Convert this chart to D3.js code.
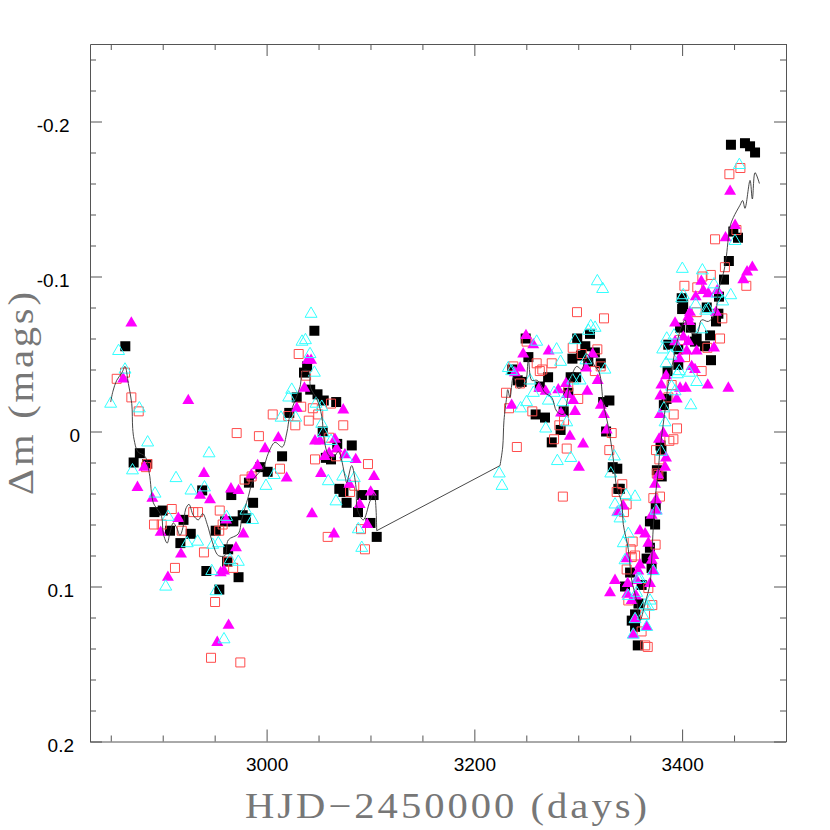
<!DOCTYPE html>
<html>
<head>
<meta charset="utf-8">
<script src="https://cdnjs.cloudflare.com/ajax/libs/d3/7.8.5/d3.min.js"></script>
<style>
  html, body { margin: 0; padding: 0; background: #fff; }
  svg { display: block; }
  .tick text { font-family: "Liberation Sans", sans-serif; font-size: 19px; fill: #000; }
  .tick line, .domain { stroke: #555; stroke-width: 1; }
  .title { font-family: "Liberation Serif", serif; font-size: 35px; fill: #777; }
</style>
</head>
<body>
<div id="chart"></div>
<script>
// [day, mag] pairs, one list per symbol
const blackSquares = [[2864,-0.055],[2878,0.014],[2872,0.020],[2885,0.021],[2938,0.038],[2966,0.041],[2892,0.052],[2900,0.051],[2907,0.064],[2920,0.057],[2927,0.066],[2917,0.072],[2951,0.064],[2960,0.058],[2968,0.058],[2977,0.054],[2980,0.056],[2987,0.046],[2983,0.033],[3001,0.026],[2994,0.023],[2963,0.076],[2962,0.084],[2942,0.090],[2973,0.094],[2954.5,0.102],
  [3046,-0.065],[3039,-0.042],[3036,-0.038],[3029,-0.022],[3042,-0.027],[3049,-0.024],[3055,-0.020],[3067,-0.019],[3021.8,-0.012],[3054,0],[3082,0.009],[3068,0.008],[3014.9,0.016],[3057,0.017],[3062,0.018],[3070,0.037],[3074,0.039],[3077,0.046],[3092,0.041],[3103,0.041],[3088,0.052],[3100,0.059],[3106,0.068],
  [3249.4,-0.060],[3252,-0.048],[3236.5,-0.040],[3241.7,-0.033],[3245.5,-0.032],[3271,-0.035],[3263,-0.029],[3259,-0.011],[3268,-0.009],[3283,-0.001],[3274.5,0.007],[3286,-0.013],[3290.4,-0.025],[3292.7,-0.035],[3298,-0.035],[3294.4,-0.047],[3299,-0.060],[3306.8,-0.055],[3302.6,-0.049],[3311.3,-0.063],[3316,-0.051],[3309.7,-0.045],[3321.7,-0.044],[3324,-0.019],[3330,-0.020],[3326.8,0],[3333.2,0.023],[3337.6,0.024],[3338.6,0.037],[3340,0.037],
  [3380.4,0.029],[3374.6,0.048],[3369,0.058],[3374,0.060],[3369,0.075],[3365.8,0.082],[3370.6,0.088],[3349.9,0.091],[3345,0.100],[3361,0.099],[3358,0.111],[3354.7,0.118],[3351.5,0.122],[3354.7,0.126],[3357.3,0.138],
  [3445,-0.110],[3440.3,-0.098],[3435.5,-0.087],[3399.6,-0.086],[3401,-0.082],[3400,-0.079],[3423.7,-0.080],[3434.9,-0.076],[3432.6,-0.071],[3408.3,-0.067],[3398,-0.067],[3414,-0.060],[3426.9,-0.062],[3412.4,-0.058],[3422,-0.055],[3386.7,-0.056],[3396.3,-0.053],[3427.8,-0.046],[3396.3,-0.043],[3386,-0.039],[3385,-0.021],[3382.4,-0.017],[3379.2,0.009],[3380.1,0.012],[3375.7,0.025],
  [3447,-0.185],[3460.5,-0.186],[3465.4,-0.184],[3470.2,-0.180],[3449.3,-0.129],[3453.8,-0.125]];

const redSquares = [[2855.7,-0.034],[2863.7,-0.038],[2869.8,-0.022],[2876.9,-0.013],[2971.2,0.001],[2885.2,0.021],[2883.9,0.023],[2908.7,0.050],[2891.6,0.060],[2899,0.060],[2918.3,0.064],[2929.4,0.052],[2934,0.052],[2954.9,0.051],[2978.8,0.031],[2985.6,0.029],[3012.9,0.024],[2939.7,0.078],[2957.7,0.060],[2954.4,0.064],[2911.8,0.088],[2963,0.084],[2967.8,0.088],[2950.4,0.110],[2946.5,0.146],[2974.7,0.149],
  [3030.9,-0.050],[3038,-0.036],[3005.9,-0.011],[3033.3,-0.016],[3044.5,-0.015],[3062,-0.018],[3049.7,-0.011],[3040.6,-0.007],[3027.6,-0.004],[3020.9,-0.010],[2992.6,0.003],[3073.8,-0.004],[3060.3,0.004],[3046.6,0.018],[3066.8,0.016],[3097.6,0.021],[3084.4,0.035],[3080.3,0.039],[3058.8,0.068],[3090.9,0.063],[3094.7,0.076],
  [3298.8,-0.077],[3324.8,-0.073],[3250.3,-0.058],[3294.7,-0.054],[3318.4,-0.053],[3303.4,-0.050],[3237.5,-0.042],[3260,-0.044],[3274.5,-0.044],[3265.4,-0.040],[3263,-0.039],[3316,-0.039],[3321.6,-0.042],[3244,-0.031],[3290.4,-0.029],[3230.5,-0.025],[3300,-0.021],[3233.4,-0.015],[3255.8,-0.013],[3286.3,-0.007],[3281.8,-0.004],[3276.7,0.005],[3332.2,0.001],[3240.9,0.010],[3288.9,0.011],[3329.9,0.012],[3285.2,0.042],[3337,0.039],[3342.4,0.034],[3346.6,0.047],[3344,0.052],
  [3377.1,0.028],[3378.7,0.042],[3372.3,0.043],[3352.4,0.071],[3374.5,0.073],[3350.5,0.076],[3354.7,0.080],[3351.5,0.081],[3346.6,0.089],[3367.5,0.101],[3348.2,0.109],[3371.3,0.112],[3364.3,0.118],[3361,0.129],[3364.5,0.138],[3366.9,0.139],
  [3441.2,-0.106],[3419.5,-0.100],[3427.6,-0.101],[3402.2,-0.094],[3414.6,-0.093],[3461.8,-0.094],[3414,-0.077],[3438.7,-0.073],[3436.5,-0.060],[3424.3,-0.054],[3398,-0.059],[3402.8,-0.048],[3418.8,-0.039],[3389.9,-0.030],[3386.7,-0.022],[3391.9,-0.011],[3395.1,-0.002],[3391.6,0.005],[3387.7,0.006],[3374.9,0.012],[3378.1,0.018],[3375.6,0.027],[3456.1,-0.170],[3445.5,-0.166],[3431.7,-0.124],[3452.3,-0.130]];

const magentaTriangles = [[2869.8,-0.071],[2862,-0.035],[2924.6,-0.021],[2882.3,0.022],[2875.7,0.035],[2939.7,0.026],[2936,0.040],[2965.7,0.036],[2973,0.037],[2890,0.042],[2945.5,0.043],[2985.3,0.027],[2991.4,0.021],[2915,0.055],[2898,0.064],[2961,0.056],[2977.6,0.065],[2970.5,0.074],[2917.6,0.078],[2959,0.089],[2955.8,0.090],[2905,0.093],[2963.4,0.124],[2952.5,0.135],
  [3039.5,-0.047],[3042.8,-0.047],[3036.4,-0.029],[3029,-0.016],[3073.8,-0.015],[3011.3,0.003],[2998.5,0.010],[3019.3,0.029],[3046.6,0.005],[3051.4,0.005],[3065.8,0.004],[3067.4,0.010],[3056,0.015],[3060.2,0.013],[3075.4,0.014],[3085.8,0.017],[3052.4,0.026],[3103.4,0.028],[3079.6,0.033],[3100.2,0.038],[3089.6,0.046],[3096.9,0.059],[3043.7,0.052],[3064.9,0.065],
  [3249.7,-0.063],[3256.7,-0.057],[3247,-0.051],[3271.5,-0.053],[3244,-0.042],[3239,-0.039],[3235.9,-0.018],[3262.5,-0.029],[3268.6,-0.027],[3280.8,-0.028],[3288.2,-0.032],[3308.7,-0.027],[3289.9,-0.025],[3295.2,-0.021],[3296.9,-0.014],[3283.4,-0.013],[3313.9,-0.051],[3307.5,-0.042],[3318.7,-0.034],[3321.7,-0.018],[3324.8,-0.012],[3327.4,-0.002],[3292,0.002],[3304.7,0.007],[3300.7,0.022],
  [3377,0.027],[3373.9,0.033],[3374.9,0.043],[3343.4,0.047],[3337.6,0.051],[3375.5,0.050],[3370.7,0.053],[3359.4,0.063],[3364.4,0.065],[3367.5,0.071],[3372.3,0.079],[3370.7,0.082],[3346.6,0.081],[3359.4,0.085],[3357.8,0.089],[3372.3,0.089],[3335.4,0.095],[3330.6,0.103],[3347.6,0.097],[3356.2,0.095],[3369.1,0.097],[3347.2,0.104],[3355.6,0.105],[3351.4,0.108],[3354.7,0.120],[3365.9,0.125],[3353,0.130],
  [3467.6,-0.107],[3462.5,-0.104],[3458.9,-0.099],[3418.5,-0.098],[3433.9,-0.092],[3420.4,-0.092],[3425.2,-0.090],[3413.1,-0.088],[3432.6,-0.078],[3407.6,-0.078],[3406,-0.075],[3406.9,-0.072],[3393.2,-0.071],[3401.2,-0.062],[3406,-0.059],[3393.2,-0.059],[3430.7,-0.055],[3414,-0.053],[3404.4,-0.053],[3397.3,-0.048],[3409.2,-0.043],[3412.4,-0.041],[3384.6,-0.037],[3424.7,-0.031],[3444.5,-0.029],[3380,-0.031],[3398,-0.029],[3403.5,-0.029],[3394.8,-0.022],[3379,-0.024],[3378.7,-0.012],[3381.9,0],[3377.7,0.004],[3384.5,0.016],[3383.6,0.022],[3446.2,-0.156],[3451,-0.134],[3441.8,-0.126]];

const cyanTriangles = [[2857.5,-0.053],[2863.7,-0.041],[2849.9,-0.019],[2877.5,-0.016],[2885.5,0.006],[2944.6,0.013],[2870.9,0.024],[2912.8,0.029],[2892.6,0.039],[2927.2,0.037],[2940.2,0.035],[2999.4,0.034],[3007.3,0.027],[2905.2,0.054],[2961.5,0.054],[2980.1,0.050],[2986.5,0.056],[2923.6,0.071],[2933.6,0.070],[2948.1,0.072],[2953.5,0.071],[2947.2,0.089],[2964.8,0.082],[2972.8,0.083],[2902.9,0.099],[2951.3,0.102],[2959,0.133],
  [3042.8,-0.077],[3034.1,-0.059],[3037.4,-0.060],[3041.8,-0.051],[3046,-0.039],[3024.2,-0.028],[3021.3,-0.023],[3013.9,-0.010],[3028,-0.010],[3047.6,-0.019],[3053.1,-0.017],[3053.1,-0.006],[3054.6,0],[3062,0.005],[3077.1,0.016],[3059.4,0.031],[3073.3,0.028],[3084.4,0.029],[3066.8,0.044],[3088.3,0.062],[3091.6,0.074],
  [3318.4,-0.098],[3323.5,-0.093],[3312,-0.069],[3316.2,-0.068],[3309.8,-0.066],[3296.9,-0.060],[3260,-0.059],[3279.2,-0.054],[3283,-0.046],[3307.4,-0.047],[3325.7,-0.041],[3232.7,-0.042],[3235.9,-0.040],[3294.7,-0.034],[3301.8,-0.034],[3253.6,-0.034],[3256.8,-0.026],[3276.7,-0.026],[3271.2,-0.021],[3285.1,-0.020],[3250.2,-0.020],[3244.5,-0.016],[3268.7,-0.003],[3288.9,-0.007],[3279.9,0.018],[3292.8,0.016],[3334.8,0.015],[3331.3,0.026],[3224,0.026],[3226.6,0.034],
  [3335.4,0.046],[3346,0.040],[3354.7,0.041],[3338.6,0.051],[3340.2,0.055],[3348.2,0.065],[3343.4,0.071],[3345,0.082],[3372.3,0.089],[3359.4,0.094],[3357.5,0.094],[3348.2,0.105],[3356.2,0.103],[3369.1,0.108],[3364.3,0.111],[3367.5,0.112],[3354.7,0.120],[3362.6,0.118],[3365.9,0.125],[3353,0.130],[3374.9,0.050],
  [3400.2,-0.106],[3419.5,-0.105],[3430.7,-0.096],[3446.8,-0.089],[3439.1,-0.085],[3433.6,-0.090],[3401.1,-0.089],[3399.6,-0.087],[3413.1,-0.083],[3425.2,-0.080],[3422.7,-0.079],[3418.8,-0.067],[3392.2,-0.063],[3385.2,-0.061],[3381.3,-0.054],[3389.3,-0.050],[3395.4,-0.055],[3384.5,-0.045],[3397.3,-0.040],[3395.4,-0.038],[3406.9,-0.039],[3414,-0.033],[3389.9,-0.030],[3393.2,-0.027],[3408.4,-0.018],[3382.5,-0.016],[3383.6,-0.007],[3380,0.012],[3455.1,-0.173],[3450.9,-0.124]];

// running mean line, one list per observing season
const meanSeason1 = [[2849.9,-0.019],[2852.1,-0.026],[2855.7,-0.033],[2860.8,-0.038],[2863.7,-0.042],[2866.9,-0.031],[2870.2,-0.018],[2871.1,-0.002],[2872.4,0.005],[2876,0.013],[2882.9,0.016],[2887.1,0.027],[2891,0.046],[2895.8,0.051],[2899,0.055],[2900.6,0.066],[2904.3,0.072],[2907,0.065],[2910.2,0.059],[2913.4,0.062],[2916.6,0.067],[2919.8,0.061],[2922.1,0.050],[2925.3,0.047],[2929.4,0.054],[2934.3,0.057],[2938.5,0.053],[2942.9,0.060],[2947.2,0.070],[2953.5,0.080],[2960,0.080],[2963.1,0.070],[2972.8,0.066],[2976,0.057],[2982.4,0.042],[2987.3,0.031],[2996.9,0.023],[3001.7,0.014],[3008.1,0.007],[3015.1,0.010],[3019.4,0.001],[3022.6,-0.011],[3032.2,-0.029],[3034.8,-0.039],[3040.2,-0.039],[3042.5,-0.028],[3048.3,-0.021],[3053.1,-0.010],[3055.3,0.005],[3059.5,0.015],[3064.3,0.017],[3069.1,0.013],[3075.5,0.029],[3077.1,0.033],[3081.9,0.022],[3086.1,0.036],[3087.3,0.050],[3093.1,0.057],[3099.5,0.045],[3103.4,0.040],[3106,0.064]];

const meanSeason2 = [[3224.7,0.022],[3227.3,0.010],[3228.5,-0.007],[3231.1,-0.022],[3232.1,-0.027],[3234.3,-0.022],[3237.5,-0.035],[3242.3,-0.028],[3248.8,-0.031],[3252,-0.046],[3255.2,-0.033],[3260.6,-0.033],[3268,-0.025],[3274.5,-0.022],[3279.3,-0.013],[3285.6,-0.011],[3288.9,-0.018],[3292.1,-0.032],[3298.5,-0.042],[3303.4,-0.040],[3308.2,-0.050],[3316.2,-0.042],[3320.3,-0.038],[3324.2,-0.018],[3329,-0.003],[3333.8,0.018],[3337,0.036],[3341.8,0.046],[3343.4,0.060],[3348.2,0.076],[3351.5,0.096],[3356.2,0.109],[3359.4,0.122],[3364.3,0.111],[3369.1,0.098],[3370.7,0.083],[3372.3,0.061],[3374.9,0.038],[3377.1,0.025],[3378.7,0.012],[3383.6,-0.014],[3386.7,-0.031],[3391.5,-0.046],[3394.8,-0.057],[3399.6,-0.068],[3402.8,-0.072],[3406,-0.065],[3414,-0.063],[3418.8,-0.072],[3425.2,-0.071],[3431.7,-0.076],[3434.9,-0.091],[3439.7,-0.102],[3442.2,-0.111],[3446.1,-0.132],[3449.3,-0.138],[3455.7,-0.146],[3458.3,-0.149],[3460.5,-0.144],[3465.4,-0.162],[3467.6,-0.150],[3470.2,-0.167],[3474.4,-0.160]];

const xMajor = [3000, 3200, 3400];
const xMinor = [2850, 2900, 2950, 3050, 3100, 3150, 3250, 3300, 3350, 3450, 3500];
const yMajor = [-0.2, -0.1, 0, 0.1, 0.2];
const yMinor = [-0.24, -0.22, -0.18, -0.16, -0.14, -0.12, -0.08, -0.06, -0.04, -0.02, 0.02, 0.04, 0.06, 0.08, 0.12, 0.14, 0.16, 0.18];

const width = 830;
const height = 830;
const margin = { top: 44, right: 44, bottom: 88.5, left: 90 };
const innerW = width - margin.left - margin.right;
const innerH = height - margin.top - margin.bottom;

const x = d3.scaleLinear().domain([2830, 3500]).range([0, innerW]);
const y = d3.scaleLinear().domain([-0.25, 0.2]).range([0, innerH]);

const svg = d3.select("#chart").append("svg").attr("width", width).attr("height", height);
const g = svg.append("g").attr("transform", `translate(${margin.left},${margin.top})`);

// Draw major and minor ticks on one side, pointing into the frame
const addAxis = (axisFn, scale, translate, labels) => {
  const major = g.append("g").attr("transform", translate)
    .call(axisFn(scale).tickValues(labels.values).tickSizeInner(-12).tickSizeOuter(0).tickPadding(labels.padding).tickFormat(labels.format));
  g.append("g").attr("transform", translate)
    .call(axisFn(scale).tickValues(labels.minor).tickSizeInner(-6).tickSizeOuter(0).tickFormat(""))
    .select(".domain").remove();
  return major;
};

const xLabels = { values: xMajor, minor: xMinor, padding: 16, format: (d) => d };
const yLabels = { values: yMajor, minor: yMinor, padding: 14, format: (d) => String(d) };
const hidden = (o) => ({ ...o, format: "" });

addAxis(d3.axisBottom, x, `translate(0,${innerH})`, xLabels);
addAxis(d3.axisTop, x, "translate(0,0)", hidden(xLabels));
// The original labels are neither centred nor flush right, and sit below their ticks
addAxis(d3.axisLeft, y, "translate(0,0)", yLabels)
  .selectAll(".tick text")
  .attr("dy", "9.8px")
  .attr("dx", (d) => (d < 0 ? -6.5 : d === 0 ? 4 : -2));
addAxis(d3.axisRight, y, `translate(${innerW},0)`, hidden(yLabels));

// Symbols, drawn back to front
const square = d3.symbol().type(d3.symbolSquare).size(100)();
const outline = d3.symbol().type(d3.symbolSquare).size(81)();
const triangle = d3.symbol().type(d3.symbolTriangle).size(62)();

// Triangles sit on their centroid, nudge so the box centre lands on the value
const addPoints = (data, path, fill, stroke, nudge) => {
  g.append("g")
    .selectAll("path")
    .data(data)
    .join("path")
    .attr("d", path)
    .attr("transform", (d) => `translate(${x(d[0])},${y(d[1]) + nudge})`)
    .attr("fill", fill)
    .attr("stroke", stroke)
    .attr("stroke-width", 1);
};

addPoints(blackSquares, square, "#000", "none", 0);
addPoints(redSquares, outline, "none", "#ff4d4d", 0);
addPoints(magentaTriangles, triangle, "#ff00ff", "none", 1.7);
addPoints(cyanTriangles, triangle, "none", "#33ffff", 1.7);

// Smooth inside a season, straight across the gap between seasons
const smoothLine = d3.line()
  .x((d) => x(d[0]))
  .y((d) => y(d[1]))
  .curve(d3.curveCatmullRom.alpha(0.5));
const straightLine = d3.line()
  .x((d) => x(d[0]))
  .y((d) => y(d[1]));
const seasonGap = [meanSeason1[meanSeason1.length - 1], meanSeason2[0]];

g.append("g")
  .attr("fill", "none")
  .attr("stroke", "#333")
  .attr("stroke-width", 0.9)
  .call((sel) => {
    sel.append("path").attr("d", smoothLine(meanSeason1));
    sel.append("path").attr("d", straightLine(seasonGap));
    sel.append("path").attr("d", smoothLine(meanSeason2));
  });

// Axis titles, stretched a little because the original face is wider
svg.append("text")
  .attr("class", "title")
  .attr("transform", "translate(245,818) scale(1.16,1)")
  .attr("textLength", 402 / 1.16)
  .attr("lengthAdjust", "spacing")
  .text("HJD\u22122450000 (days)");

svg.append("text")
  .attr("class", "title")
  .attr("transform", "translate(33,495) rotate(-90) scale(1.16,1)")
  .attr("textLength", 203 / 1.16)
  .attr("lengthAdjust", "spacing")
  .text("\u0394m (mags)");
</script>
</body>
</html>
